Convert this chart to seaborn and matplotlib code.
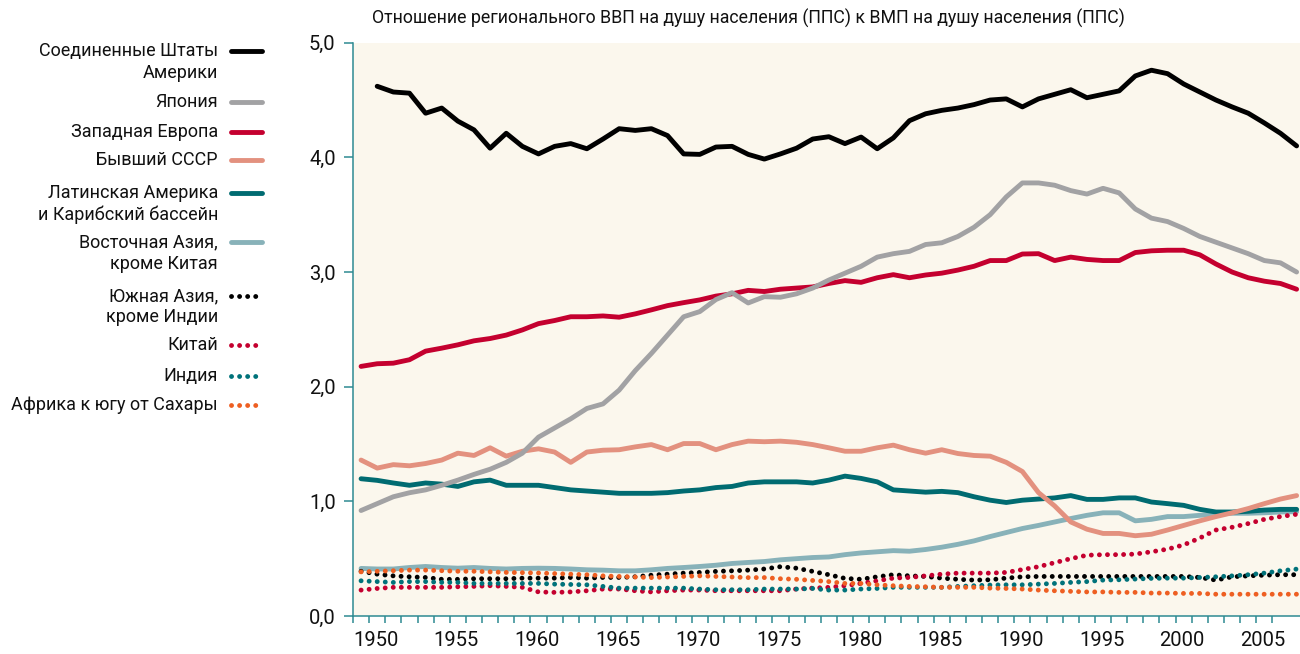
import numpy as np
import pandas as pd
import matplotlib
matplotlib.use('Agg')
import matplotlib.pyplot as plt
import seaborn as sns
from matplotlib.lines import Line2D
from matplotlib.ticker import FuncFormatter

#%% данные
years = list(range(1950, 2009))

usa = [np.nan,
       4.62, 4.57, 4.56, 4.385, 4.43, 4.316, 4.24, 4.08, 4.21, 4.096,
       4.03, 4.096, 4.12, 4.075, 4.16, 4.25, 4.235, 4.25, 4.19, 4.03,
       4.026, 4.09, 4.096, 4.026, 3.985, 4.03, 4.08, 4.16, 4.18,
       4.12, 4.177, 4.075, 4.17, 4.32, 4.38, 4.41, 4.43, 4.46, 4.50,
       4.51, 4.44, 4.51, 4.55, 4.59, 4.52, 4.55, 4.58, 4.71, 4.76,
       4.73, 4.64, 4.57, 4.50, 4.44, 4.385, 4.30, 4.21, 4.10]

japan = [0.92, 0.98, 1.04, 1.075, 1.10, 1.14, 1.185, 1.235, 1.28, 1.34,
         1.42, 1.56, 1.64, 1.72, 1.81, 1.85, 1.97, 2.14, 2.29, 2.45,
         2.61, 2.655, 2.76, 2.82, 2.73, 2.785, 2.78, 2.81, 2.86, 2.93,
         2.99, 3.05, 3.13, 3.16, 3.18, 3.24, 3.255, 3.31, 3.39, 3.50,
         3.655, 3.777, 3.777, 3.757, 3.71, 3.68, 3.73, 3.69, 3.55, 3.47,
         3.44, 3.38, 3.31, 3.26, 3.21, 3.16, 3.10, 3.08, 3.00]

w_europe = [2.177, 2.20, 2.205, 2.235, 2.31, 2.336, 2.365, 2.40, 2.42, 2.45,
            2.495, 2.55, 2.577, 2.61, 2.61, 2.617, 2.606, 2.635, 2.67, 2.707,
            2.733, 2.757, 2.79, 2.81, 2.84, 2.83, 2.85, 2.86, 2.87, 2.90,
            2.925, 2.91, 2.95, 2.977, 2.95, 2.974, 2.99, 3.017, 3.05, 3.10,
            3.10, 3.157, 3.16, 3.10, 3.13, 3.11, 3.10, 3.10, 3.17, 3.185,
            3.19, 3.19, 3.15, 3.07, 3.00, 2.95, 2.92, 2.90, 2.85]

ussr = [1.36, 1.29, 1.32, 1.31, 1.33, 1.36, 1.42, 1.40, 1.467, 1.394,
        1.437, 1.458, 1.43, 1.34, 1.43, 1.446, 1.45, 1.475, 1.495, 1.45,
        1.504, 1.504, 1.45, 1.495, 1.525, 1.52, 1.525, 1.515, 1.495, 1.467,
        1.437, 1.437, 1.467, 1.49, 1.45, 1.42, 1.45, 1.417, 1.40, 1.394,
        1.34, 1.26, 1.076, 0.96, 0.82, 0.757, 0.72, 0.72, 0.70, 0.713,
        0.75, 0.79, 0.83, 0.867, 0.90, 0.937, 0.98, 1.02, 1.05]

lat_am = [1.197, 1.183, 1.16, 1.14, 1.16, 1.15, 1.13, 1.17, 1.185, 1.14,
          1.14, 1.14, 1.12, 1.10, 1.09, 1.08, 1.07, 1.07, 1.07, 1.076,
          1.09, 1.10, 1.12, 1.13, 1.16, 1.17, 1.17, 1.17, 1.16, 1.185,
          1.22, 1.20, 1.17, 1.10, 1.09, 1.08, 1.087, 1.076, 1.04, 1.01,
          0.99, 1.01, 1.02, 1.03, 1.05, 1.017, 1.017, 1.03, 1.03, 0.994,
          0.98, 0.965, 0.93, 0.907, 0.907, 0.913, 0.924, 0.93, 0.93]

e_asia = [0.415, 0.41, 0.41, 0.423, 0.432, 0.423, 0.417, 0.423, 0.415, 0.41,
          0.415, 0.417, 0.415, 0.41, 0.403, 0.40, 0.394, 0.394, 0.403, 0.415,
          0.423, 0.432, 0.443, 0.458, 0.467, 0.475, 0.49, 0.50, 0.51, 0.515,
          0.535, 0.55, 0.56, 0.57, 0.565, 0.58, 0.60, 0.625, 0.655, 0.693,
          0.728, 0.763, 0.79, 0.82, 0.85, 0.878, 0.90, 0.90, 0.83, 0.843,
          0.867, 0.867, 0.878, 0.887, 0.896, 0.896, 0.90, 0.907, 0.91]

s_asia = [0.39, 0.365, 0.35, 0.342, 0.336, 0.32, 0.32, 0.325, 0.325, 0.325,
          0.33, 0.33, 0.33, 0.336, 0.33, 0.336, 0.336, 0.342, 0.356, 0.365,
          0.374, 0.38, 0.389, 0.394, 0.40, 0.41, 0.43, 0.417, 0.389, 0.36,
          0.328, 0.32, 0.342, 0.36, 0.35, 0.345, 0.33, 0.32, 0.313, 0.316,
          0.33, 0.342, 0.345, 0.345, 0.345, 0.345, 0.345, 0.345, 0.345, 0.345,
          0.345, 0.345, 0.336, 0.313, 0.342, 0.35, 0.356, 0.36, 0.36]

china = [0.226, 0.24, 0.25, 0.25, 0.25, 0.25, 0.255, 0.258, 0.264, 0.258,
         0.25, 0.21, 0.206, 0.21, 0.22, 0.235, 0.235, 0.22, 0.21, 0.22,
         0.226, 0.226, 0.22, 0.22, 0.22, 0.22, 0.22, 0.235, 0.243, 0.25,
         0.264, 0.284, 0.307, 0.33, 0.336, 0.35, 0.365, 0.374, 0.374, 0.374,
         0.38, 0.405, 0.43, 0.465, 0.50, 0.53, 0.535, 0.535, 0.54, 0.56,
         0.583, 0.62, 0.68, 0.75, 0.774, 0.806, 0.843, 0.867, 0.887]

india = [0.307, 0.30, 0.293, 0.30, 0.30, 0.293, 0.293, 0.284, 0.284, 0.284,
         0.284, 0.284, 0.278, 0.275, 0.272, 0.258, 0.243, 0.243, 0.243, 0.243,
         0.243, 0.235, 0.229, 0.229, 0.229, 0.235, 0.235, 0.235, 0.24, 0.226,
         0.226, 0.235, 0.24, 0.25, 0.25, 0.25, 0.25, 0.258, 0.264, 0.27,
         0.272, 0.272, 0.278, 0.284, 0.293, 0.30, 0.313, 0.316, 0.322, 0.328,
         0.33, 0.33, 0.336, 0.342, 0.35, 0.36, 0.374, 0.394, 0.409]

ssa = [0.385, 0.39, 0.395, 0.40, 0.40, 0.395, 0.39, 0.39, 0.385, 0.38,
       0.378, 0.375, 0.37, 0.365, 0.36, 0.35, 0.345, 0.34, 0.335, 0.34,
       0.345, 0.35, 0.345, 0.34, 0.335, 0.335, 0.325, 0.32, 0.31, 0.30,
       0.284, 0.284, 0.272, 0.264, 0.258, 0.255, 0.25, 0.25, 0.25, 0.243,
       0.24, 0.235, 0.226, 0.22, 0.215, 0.21, 0.21, 0.206, 0.206, 0.20,
       0.20, 0.197, 0.197, 0.19, 0.19, 0.19, 0.19, 0.19, 0.19]

title = 'Отношение регионального ВВП на душу населения (ППС) к ВМП на душу населения (ППС)'

#%% стиль
sns.set_style('ticks')
plt.rcParams['font.family'] = ['Roboto', 'DejaVu Sans']

teal_axis = '#2E8A92'
dots = (0, (0.01, 1.65))
lw = 3.5

# (подпись, данные, цвет, стиль линии, y легенды в px)
series = [
    (['Соединенные Штаты', 'Америки'], usa, '#000000', '-', 51),
    (['Япония'], japan, '#A2A2A4', '-', 102),
    (['Западная Европа'], w_europe, '#C4002F', '-', 132),
    (['Бывший СССР'], ussr, '#E3917F', '-', 160),
    (['Латинская Америка', 'и Карибский бассейн'], lat_am, '#006B71', '-', 193),
    (['Восточная Азия,', 'кроме Китая'], e_asia, '#88B2B9', '-', 242),
    (['Южная Азия,', 'кроме Индии'], s_asia, '#000000', dots, 296),
    (['Китай'], china, '#C4002F', dots, 345),
    (['Индия'], india, '#00727A', dots, 376),
    (['Африка к югу от Сахары'], ssa, '#EE5F22', dots, 405),
]

W, H = 1300, 654
fig = plt.figure(figsize=(13, 6.54), dpi=100)
ax = fig.add_axes([353 / W, (H - 616) / H, 1 - 353 / W, (616 - 42.7) / H])
ax.set_facecolor('#FBF7ED')

# сначала сплошные (в обратном порядке), потом точечные
solid = [s for s in series if s[3] == '-'][::-1]
dotted = [s for s in series if s[3] != '-']
for lab, vals, col, ls, _ in solid + dotted:
    sns.lineplot(x=years, y=vals, ax=ax, color=col, linewidth=lw, linestyle=ls,
                 dash_capstyle='round', solid_capstyle='round',
                 solid_joinstyle='round')

ax.set_xlim(1949.5, 1949.5 + (W - 353) / 16.13)
ax.set_ylim(0, 5)
ax.set_xlabel('')
ax.set_ylabel('')

xt = [y - 0.5 for y in years[:-1]]
xl = [str(y) if y % 5 == 0 else '' for y in years[:-1]]
ax.set_xticks(xt, xl)
for t in ax.get_xticklabels():
    t.set_horizontalalignment('left')
ax.set_yticks([0, 1, 2, 3, 4, 5])
ax.yaxis.set_major_formatter(FuncFormatter(lambda v, p: f'{v:.1f}'.replace('.', ',')))

ax.tick_params(axis='x', length=5, width=1.1, color=teal_axis, pad=6,
               labelsize=14.5, labelcolor='#111111')
ax.tick_params(axis='y', length=6.5, width=1.1, color=teal_axis, pad=6,
               labelsize=14.5, labelcolor='#111111')
for side in ['top', 'right']:
    ax.spines[side].set_visible(False)
for side in ['left', 'bottom']:
    ax.spines[side].set_color(teal_axis)
    ax.spines[side].set_linewidth(1.1)

fig.text(372 / W, 1 - 18 / H, title, ha='left', va='center', fontsize=12.8,
         color='#111111')

#%% легенда слева
for lab, vals, col, ls, ypx in series:
    for i, line in enumerate(lab):
        fig.text(218 / W, 1 - (ypx + 21.5 * i) / H, line, ha='right',
                 va='center', fontsize=13, color='#111111')
    fig.add_artist(Line2D([231 / W, 262 / W], [1 - ypx / H] * 2,
                          transform=fig.transFigure, color=col, linewidth=lw,
                          linestyle=ls, dash_capstyle='round',
                          solid_capstyle='round'))

plt.savefig('out.png', dpi=100)
